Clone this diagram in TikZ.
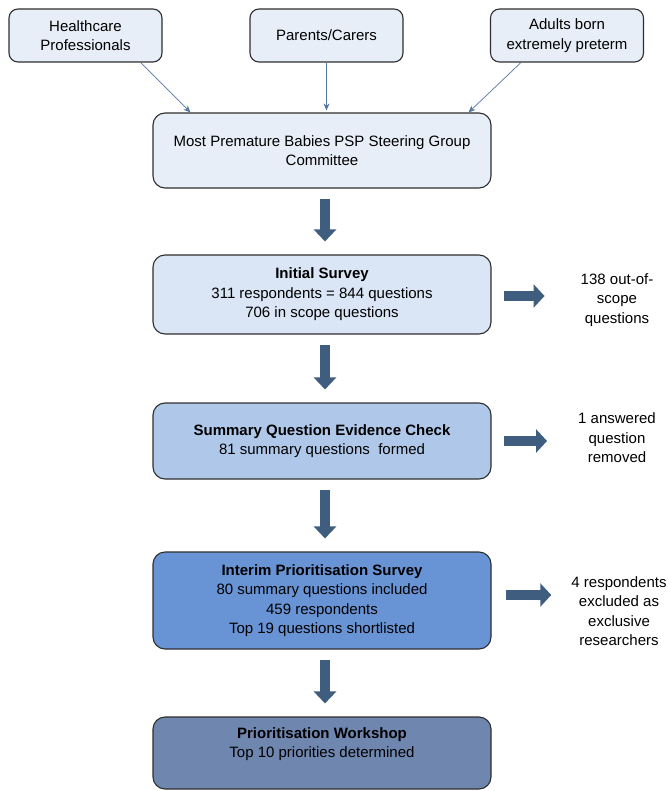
\documentclass[tikz,border=0pt]{standalone}
\usepackage{fontspec}
\setmainfont{Liberation Sans}
\usetikzlibrary{arrows.meta}
\definecolor{boxline}{HTML}{2E2E2E}
\definecolor{paleblue}{HTML}{E8EEF7}
\definecolor{initblue}{HTML}{DAE6F5}
\definecolor{sumblue}{HTML}{AFC8E9}
\definecolor{intblue}{HTML}{6893D4}
\definecolor{wsblue}{HTML}{6F86AF}
\definecolor{arrowblue}{HTML}{3E5D7F}
\definecolor{thinblue}{HTML}{5477A0}
\tikzset{
  box/.style={draw=boxline, line width=1.1pt, rounded corners=9pt, align=center, inner sep=0pt},
  topbox/.style={box, fill=paleblue, minimum width=153pt, minimum height=53pt},
  bigbox/.style={box, rounded corners=12pt, minimum width=338pt},
  sidetext/.style={align=center, inner sep=0pt},
  thinarrow/.style={draw=thinblue, line width=0.7pt, -{Stealth[length=7pt,width=6pt]}},
  downarrow/.style={draw=arrowblue, line width=10pt, -{Triangle[length=12pt,width=22pt]}, shorten <=10pt, shorten >=13pt},
  sidearrow/.style={draw=arrowblue, line width=10pt, -{Triangle[length=11pt,width=23pt]}},
}
\begin{document}
\begin{tikzpicture}[x=1pt, y=-1pt, font=\fontsize{15}{19.5}\selectfont]
\useasboundingbox (0,0) rectangle (668,791);

\node[topbox] (hc) at (85.5,35.5) {Healthcare\\Professionals};
\node[topbox] (pc) at (326.5,35.5) {Parents/Carers};
\node[topbox] (ad) at (567,35.5) {Adults born\\extremely preterm};

\node[bigbox, fill=paleblue, minimum height=75pt] (steer) at (322,150.5) {Most Premature Babies PSP Steering Group\\Committee};

\node[bigbox, fill=initblue, minimum height=79pt] (init) at (322,294.5) {\textbf{Initial Survey}\\311 respondents = 844 questions\\706 in scope questions};
\node[bigbox, fill=sumblue, minimum height=76pt] (sum) at (322,441) {\textbf{Summary Question Evidence Check}\\81 summary questions\ \ formed};
\node[bigbox, fill=intblue, minimum height=97pt] (int) at (322,600.5) {\textbf{Interim Prioritisation Survey}\\80 summary questions included\\459 respondents\\Top 19 questions shortlisted};
\node[bigbox, fill=wsblue, minimum height=72pt] (ws) at (322,753) {};
\node[align=center, inner sep=0pt] (wstext) at (322,744) {\textbf{Prioritisation Workshop}\\Top 10 priorities determined};

\node[sidetext] (oos) at (617,300) {138 out-of-\\scope\\questions};
\node[sidetext] (ans) at (617,438) {1 answered\\question\\removed};
\node[sidetext] (exc) at (619,611) {4 respondents\\excluded as\\exclusive\\researchers};

\draw[thinarrow] ([xshift=-22pt]hc.south east) -- ([xshift=38pt]steer.north west);
\draw[thinarrow] (pc.south) -- ([yshift=2pt]steer.north -| pc.south);
\draw[thinarrow] ([xshift=31pt]ad.south west) -- ([xshift=-23pt]steer.north east);

\draw[downarrow] ([xshift=3pt]steer.south) -- ([xshift=3pt]init.north);
\draw[downarrow] ([xshift=3pt]init.south) -- ([xshift=3pt]sum.north);
\draw[downarrow] ([xshift=3pt]sum.south) -- ([xshift=3pt]int.north);
\draw[downarrow] ([xshift=3pt]int.south) -- ([xshift=3pt]ws.north);

\draw[sidearrow, shorten <=12pt, shorten >=36pt] ([yshift=-1.5pt]init.east) -- ([yshift=-1.5pt]init.east -| oos.west);
\draw[sidearrow, shorten <=12pt, shorten >=31pt] (sum.east) -- (sum.east -| ans.west);
\draw[sidearrow, shorten <=14pt, shorten >=20pt] ([yshift=5.5pt]int.east) -- ([yshift=5.5pt]int.east -| exc.west);
\end{tikzpicture}
\end{document}
